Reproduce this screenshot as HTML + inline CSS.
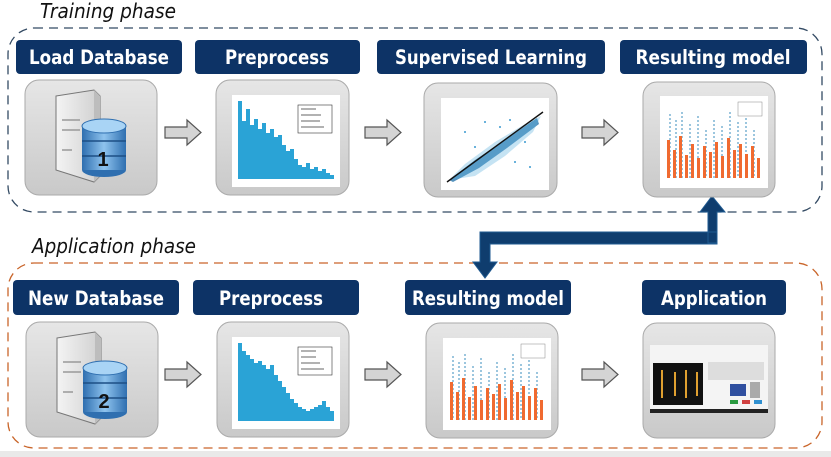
<!DOCTYPE html>
<html><head><meta charset="utf-8"><style>
html,body{margin:0;padding:0;background:#fff;width:831px;height:457px;overflow:hidden}
svg{display:block}
.h{font-family:"DejaVu Sans","Liberation Sans",sans-serif;font-weight:bold;font-size:19.5px;fill:#fff}
.ph{font-family:"DejaVu Sans","Liberation Sans",sans-serif;font-style:italic;font-size:20px;fill:#111}
</style></head><body>
<svg width="831" height="457" viewBox="0 0 831 457">
<defs>
<linearGradient id="card" x1="0" y1="0" x2="0" y2="1"><stop offset="0" stop-color="#e6e6e6"/><stop offset="1" stop-color="#c9c9c9"/></linearGradient>
<linearGradient id="cyl" x1="0" y1="0" x2="1" y2="0"><stop offset="0" stop-color="#2f6fb0"/><stop offset="0.5" stop-color="#8ec3ee"/><stop offset="1" stop-color="#2f6fb0"/></linearGradient>
<linearGradient id="srv" x1="0" y1="0" x2="1" y2="0"><stop offset="0" stop-color="#f4f4f4"/><stop offset="1" stop-color="#cfcfcf"/></linearGradient>
<g id="arrow"><path d="M0,7 H22 V0 L36,12.5 L22,25 V18 H0 Z" fill="#d4d4d4" stroke="#555" stroke-width="1.2"/></g>
<g id="hist1">
<rect x="-4" y="-4" width="108" height="92" fill="#fff"/>
<path d="M2,80 V2 H6 V22 H10 V10 H14 V26 H18 V20 H22 V30 H26 V24 H30 V34 H34 V30 H38 V38 H42 V36 H46 V46 H50 V52 H54 V50 H58 V60 H62 V66 H66 V68 H70 V64 H74 V70 H78 V68 H82 V72 H86 V70 H90 V74 H94 V76 H98 V80 Z" fill="#2aa3d6"/>
<rect x="62" y="6" width="34" height="28" fill="#fff" stroke="#333" stroke-width="0.6"/>
<g stroke="#666" stroke-width="1"><line x1="65" y1="10" x2="80" y2="10"/><line x1="65" y1="16" x2="85" y2="16"/><line x1="65" y1="22" x2="84" y2="22"/><line x1="65" y1="28" x2="88" y2="28"/></g>
</g>
<g id="hist2">
<rect x="-4" y="-4" width="108" height="92" fill="#fff"/>
<path d="M2,80 V2 H6 V10 H10 V14 H14 V18 H18 V22 H22 V20 H26 V24 H30 V28 H34 V24 H38 V34 H42 V40 H46 V46 H50 V52 H54 V58 H58 V62 H62 V66 H66 V68 H70 V70 H74 V68 H78 V66 H82 V64 H86 V60 H90 V66 H94 V70 H98 V80 Z" fill="#2aa3d6"/>
<rect x="62" y="6" width="34" height="28" fill="#fff" stroke="#333" stroke-width="0.6"/>
<g stroke="#666" stroke-width="1"><line x1="65" y1="10" x2="80" y2="10"/><line x1="65" y1="16" x2="80" y2="16"/><line x1="65" y1="22" x2="84" y2="22"/><line x1="65" y1="28" x2="88" y2="28"/></g>
</g>
<g id="model">
<rect x="-4" y="-4" width="108" height="92" fill="#fff"/>
<g stroke="#5aa0c8" stroke-width="1.2" stroke-dasharray="2 2">
<line x1="6" y1="14" x2="6" y2="78"/><line x1="12" y1="20" x2="12" y2="78"/><line x1="18" y1="12" x2="18" y2="78"/><line x1="26" y1="24" x2="26" y2="78"/><line x1="34" y1="16" x2="34" y2="78"/><line x1="42" y1="30" x2="42" y2="78"/><line x1="50" y1="20" x2="50" y2="78"/><line x1="58" y1="26" x2="58" y2="78"/><line x1="66" y1="12" x2="66" y2="78"/><line x1="74" y1="22" x2="74" y2="78"/><line x1="82" y1="18" x2="82" y2="78"/><line x1="90" y1="30" x2="90" y2="78"/>
</g>
<g fill="#f06a30">
<rect x="3" y="40" width="3" height="38"/><rect x="9" y="50" width="3" height="28"/><rect x="15" y="36" width="3" height="42"/><rect x="21" y="55" width="3" height="23"/><rect x="27" y="44" width="3" height="34"/><rect x="33" y="58" width="3" height="20"/><rect x="39" y="46" width="3" height="32"/><rect x="45" y="52" width="3" height="26"/><rect x="51" y="42" width="3" height="36"/><rect x="57" y="56" width="3" height="22"/><rect x="63" y="38" width="3" height="40"/><rect x="69" y="50" width="3" height="28"/><rect x="75" y="44" width="3" height="34"/><rect x="81" y="54" width="3" height="24"/><rect x="87" y="46" width="3" height="32"/><rect x="93" y="58" width="3" height="20"/>
</g>
<rect x="74" y="2" width="24" height="14" fill="#fff" stroke="#888" stroke-width="0.5"/>
</g>
<g id="scatter">
<rect x="-4" y="-4" width="108" height="92" fill="#fff"/>
<path d="M4,78 L30,58 L60,38 L92,16 L94,22 L62,46 L34,66 L8,80 Z" fill="#1d6fa8" opacity="0.75"/>
<path d="M4,78 L20,62 L50,40 L80,22 L96,14 L88,30 L60,54 L30,74 Z" fill="#5ab0dd" opacity="0.35"/>
<line x1="2" y1="80" x2="98" y2="10" stroke="#111" stroke-width="1.4"/>
<g fill="#3a9ad0"><circle cx="20" cy="30" r="1"/><circle cx="40" cy="20" r="1"/><circle cx="70" cy="60" r="1"/><circle cx="80" cy="40" r="1"/><circle cx="55" cy="25" r="1"/><circle cx="30" cy="45" r="1"/><circle cx="85" cy="65" r="1"/><circle cx="65" cy="18" r="1"/></g>
</g>
<g id="db">
<path d="M-34,-44 L4,-50 L10,-44 V36 L4,42 L-34,30 Z" fill="url(#srv)" stroke="#777" stroke-width="1"/>
<path d="M4,-50 L10,-44 V36 L4,42 Z" fill="#bdbdbd"/>
<g stroke="#999" stroke-width="1.5"><line x1="-28" y1="-20" x2="-10" y2="-20"/><line x1="-28" y1="-10" x2="-10" y2="-10"/><line x1="-28" y1="10" x2="-18" y2="10"/></g>
<ellipse cx="14" cy="30" rx="22" ry="7" fill="#2f6fb0"/>
<rect x="-8" y="-14" width="44" height="44" fill="url(#cyl)"/>
<line x1="-8" y1="1" x2="36" y2="1" stroke="#1d4f85" stroke-width="1.5"/>
<line x1="-8" y1="16" x2="36" y2="16" stroke="#1d4f85" stroke-width="1.5"/>
<ellipse cx="14" cy="-14" rx="22" ry="7" fill="#a9d4f5" stroke="#2f6fb0"/>
</g>
</defs>

<text x="40" y="18" class="ph" textLength="136" lengthAdjust="spacingAndGlyphs">Training phase</text>
<rect x="8" y="28" width="814" height="184" rx="26" fill="none" stroke="#334a63" stroke-width="1.3" stroke-dasharray="9 6"/>

<text x="32" y="253" class="ph" textLength="164" lengthAdjust="spacingAndGlyphs">Application phase</text>
<rect x="8" y="263" width="814" height="185" rx="26" fill="none" stroke="#c9652a" stroke-width="1.3" stroke-dasharray="9 6"/>
<rect x="0" y="451" width="831" height="6" fill="#e9e9e9"/>

<path d="M708,243 V212 H700 L712,196 L725,212 H717 V243 Z M480,232 H717 V244 H490 V262 H497 L485,278 L473,262 H480 Z" fill="#0f3d6e" stroke="#1f5a90" stroke-width="1"/>

<g>
<rect x="16" y="40" width="166" height="34" rx="4" fill="#0d3366"/><text x="99" y="64" text-anchor="middle" class="h" textLength="140" lengthAdjust="spacingAndGlyphs">Load Database</text>
<rect x="195" y="40" width="165" height="34" rx="4" fill="#0d3366"/><text x="277" y="64" text-anchor="middle" class="h" textLength="104" lengthAdjust="spacingAndGlyphs">Preprocess</text>
<rect x="377" y="40" width="228" height="34" rx="4" fill="#0d3366"/><text x="491" y="64" text-anchor="middle" class="h" textLength="192" lengthAdjust="spacingAndGlyphs">Supervised Learning</text>
<rect x="620" y="40" width="187" height="34" rx="4" fill="#0d3366"/><text x="713" y="64" text-anchor="middle" class="h" textLength="155" lengthAdjust="spacingAndGlyphs">Resulting model</text>
</g>
<g>
<rect x="13" y="280" width="166" height="35" rx="4" fill="#0d3366"/><text x="96" y="305" text-anchor="middle" class="h" textLength="136" lengthAdjust="spacingAndGlyphs">New Database</text>
<rect x="193" y="280" width="166" height="35" rx="4" fill="#0d3366"/><text x="271" y="305" text-anchor="middle" class="h" textLength="104" lengthAdjust="spacingAndGlyphs">Preprocess</text>
<rect x="405" y="280" width="166" height="35" rx="4" fill="#0d3366"/><text x="488" y="305" text-anchor="middle" class="h" textLength="152" lengthAdjust="spacingAndGlyphs">Resulting model</text>
<rect x="642" y="280" width="144" height="35" rx="4" fill="#0d3366"/><text x="714" y="305" text-anchor="middle" class="h" textLength="106" lengthAdjust="spacingAndGlyphs">Application</text>
</g>

<rect x="25" y="80" width="132" height="115" rx="14" fill="url(#card)" stroke="#aaa"/>
<use href="#db" x="90" y="140"/>
<text x="103" y="166" font-family="Liberation Sans,sans-serif" font-weight="bold" font-size="20" fill="#111" text-anchor="middle">1</text>
<rect x="216" y="80" width="133" height="115" rx="14" fill="url(#card)" stroke="#aaa"/>
<use href="#hist1" x="236" y="99"/>
<rect x="424" y="83" width="133" height="114" rx="14" fill="url(#card)" stroke="#aaa"/>
<use href="#scatter" x="445" y="102"/>
<rect x="643" y="82" width="132" height="115" rx="14" fill="url(#card)" stroke="#aaa"/>
<use href="#model" x="664" y="100"/>

<use href="#arrow" x="165" y="120"/>
<use href="#arrow" x="365" y="120"/>
<use href="#arrow" x="582" y="120"/>

<rect x="26" y="322" width="132" height="115" rx="14" fill="url(#card)" stroke="#aaa"/>
<use href="#db" x="91" y="382"/>
<text x="104" y="408" font-family="Liberation Sans,sans-serif" font-weight="bold" font-size="20" fill="#111" text-anchor="middle">2</text>
<rect x="217" y="322" width="132" height="115" rx="14" fill="url(#card)" stroke="#aaa"/>
<use href="#hist2" x="236" y="341"/>
<rect x="426" y="323" width="132" height="115" rx="14" fill="url(#card)" stroke="#aaa"/>
<use href="#model" x="447" y="342"/>
<rect x="643" y="323" width="132" height="115" rx="14" fill="url(#card)" stroke="#aaa"/>
<rect x="650" y="345" width="118" height="68" fill="#f4f4f4"/>
<rect x="653" y="363" width="50" height="42" fill="#111"/>
<g stroke="#e0a030" stroke-width="2"><line x1="662" y1="370" x2="662" y2="398"/><line x1="675" y1="372" x2="675" y2="396"/><line x1="686" y1="370" x2="686" y2="398"/><line x1="697" y1="372" x2="697" y2="396"/></g>
<rect x="708" y="362" width="56" height="18" fill="#ddd"/>
<rect x="730" y="384" width="16" height="12" fill="#3050a0"/>
<rect x="750" y="382" width="10" height="16" fill="#aaa"/>
<rect x="730" y="400" width="8" height="4" fill="#2a9a40"/><rect x="742" y="400" width="8" height="4" fill="#d04040"/><rect x="754" y="400" width="8" height="4" fill="#3090d0"/>
<rect x="650" y="409" width="118" height="4" fill="#222"/>

<use href="#arrow" x="165" y="362"/>
<use href="#arrow" x="365" y="362"/>
<use href="#arrow" x="582" y="362"/>
</svg>
</body></html>
